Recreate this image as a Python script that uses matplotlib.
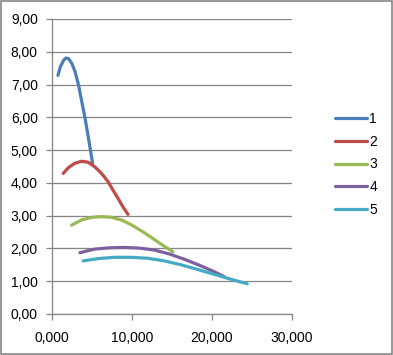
import matplotlib.pyplot as plt
from matplotlib.patches import Rectangle
from matplotlib.ticker import FuncFormatter, MultipleLocator

plt.rcParams['font.family'] = ['Liberation Sans', 'DejaVu Sans']

# values (x shown with 3 decimals)
x1 = [0.78, 1.07, 1.49, 1.78, 2.11, 2.52, 2.93, 3.35, 3.76, 4.17, 4.60, 5.01, 5.09]
y1 = [7.28, 7.54, 7.74, 7.81, 7.79, 7.64, 7.38, 6.98, 6.47, 5.96, 5.35, 4.74, 4.59]
x2 = [1.44, 2.06, 2.89, 3.73, 4.55, 5.38, 6.21, 7.03, 7.65, 8.27, 8.89, 9.52]
y2 = [4.29, 4.46, 4.60, 4.66, 4.63, 4.49, 4.29, 4.04, 3.78, 3.53, 3.27, 3.04]
x3 = [2.48, 3.73, 4.97, 6.21, 7.45, 8.70, 9.94, 11.18, 12.42, 13.66, 15.11]
y3 = [2.71, 2.87, 2.95, 2.97, 2.95, 2.87, 2.72, 2.54, 2.34, 2.13, 1.90]
x4 = [3.52, 5.38, 7.24, 9.11, 10.97, 12.83, 14.70, 16.56, 18.42, 20.29, 21.52]
y4 = [1.87, 1.98, 2.02, 2.03, 2.01, 1.95, 1.83, 1.67, 1.49, 1.29, 1.14]
x5 = [3.93, 5.79, 7.86, 9.94, 12.00, 14.07, 16.15, 18.21, 20.29, 22.36, 24.42]
y5 = [1.62, 1.69, 1.73, 1.73, 1.70, 1.62, 1.50, 1.36, 1.21, 1.06, 0.92]

series = [(x1, y1), (x2, y2), (x3, y3), (x4, y4), (x5, y5)]
labels = ['1', '2', '3', '4', '5']
colors = ['#4A7EBB', '#BE4B48', '#98B954', '#7D60A0', '#46AAC5']

fig = plt.figure(figsize=(3.93, 3.55), dpi=100)
ax = fig.add_axes([0.1316, 0.1155, 0.6114, 0.831])

for (xs, ys), lab, col in zip(series, labels, colors):
    ax.plot(xs, ys, color=col, lw=2.3, label=lab, solid_capstyle='round', solid_joinstyle='round')

ax.set_xlim(0, 30)
ax.set_ylim(0, 9)
ax.xaxis.set_major_locator(MultipleLocator(10))
ax.yaxis.set_major_locator(MultipleLocator(1))
ax.xaxis.set_major_formatter(FuncFormatter(lambda v, p: f"{v:.3f}".replace('.', ',')))
ax.yaxis.set_major_formatter(FuncFormatter(lambda v, p: f"{v:.2f}".replace('.', ',')))
ax.grid(True, axis='y', color='#868686', lw=0.9)
ax.set_axisbelow(True)
for s in ['top', 'right']:
    ax.spines[s].set_visible(False)
for s in ['left', 'bottom']:
    ax.spines[s].set_color('#868686')
    ax.spines[s].set_linewidth(0.9)
ax.tick_params(axis='both', direction='out', length=4, color='#868686', labelsize=10, width=0.9)
ax.tick_params(axis='x', pad=8)
ax.tick_params(axis='y', pad=6)

ax.legend(loc='upper left', bbox_to_anchor=(0.82, 0.72), bbox_transform=fig.transFigure,
          frameon=False, fontsize=10, handlelength=2.3, labelspacing=0.63, handletextpad=0.2)

fig.patches.append(Rectangle((0.002, 0.003), 0.995, 0.994, transform=fig.transFigure,
                             fill=False, edgecolor='#868686', lw=1.2))

fig.savefig('out.png', dpi=100)
